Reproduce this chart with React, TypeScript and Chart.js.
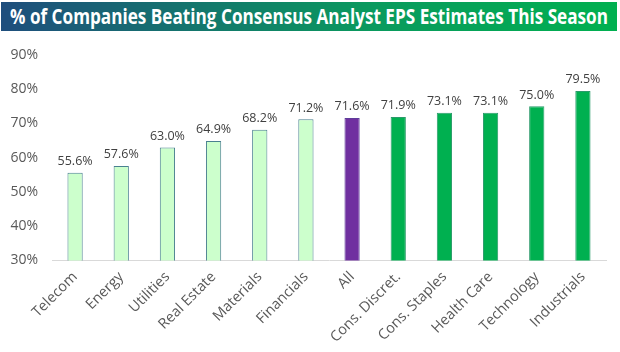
import React, { useEffect, useLayoutEffect, useRef } from 'react';
import { Chart, registerables } from 'chart.js';

Chart.register(...registerables);

const title = '% of Companies Beating Consensus Analyst EPS Estimates This Season';
const categories = ['Telecom', 'Energy', 'Utilities', 'Real Estate', 'Materials', 'Financials', 'All', 'Cons. Discret.', 'Cons. Staples', 'Health Care', 'Technology', 'Industrials'];
const values = [55.6, 57.6, 63.0, 64.9, 68.2, 71.2, 71.6, 71.9, 73.1, 73.1, 75.0, 79.5];
const groups = ['below', 'below', 'below', 'below', 'below', 'below', 'all', 'above', 'above', 'above', 'above', 'above'];
const yTicks = [30, 40, 50, 60, 70, 80, 90];

const fillFor: Record<string, string> = { below: '#ccffcc', all: '#7030a0', above: '#00b050' };
const borderFor: Record<string, string> = { below: '#4a8090', all: '#5e3d9a', above: '#2a9a6a' };

const labelPlugin = {
  id: 'barLabels',
  afterDatasetsDraw(chart: any) {
    const ctx = chart.ctx;
    const meta = chart.getDatasetMeta(0);
    ctx.save();
    ctx.font = '12.5px "Open Sans"';
    ctx.fillStyle = '#404040';
    ctx.textAlign = 'center';
    ctx.textBaseline = 'bottom';
    meta.data.forEach((el: any, i: number) => {
      ctx.fillText(values[i].toFixed(1) + '%', el.x, el.y - 5);
    });
    ctx.restore();
  },
};

export default function App() {
  const canvasRef = useRef<HTMLCanvasElement | null>(null);
  const spanRef = useRef<HTMLSpanElement | null>(null);

  useLayoutEffect(() => {
    document.body.style.margin = '0';
    const s = spanRef.current;
    if (s) {
      const w = s.getBoundingClientRect().width;
      const target = 598;
      s.style.transform = `scaleX(${target / w})`;
    }
  }, []);

  useEffect(() => {
    if (!canvasRef.current) return;
    const chart = new Chart(canvasRef.current, {
      type: 'bar',
      data: {
        labels: categories,
        datasets: [
          {
            data: values,
            backgroundColor: groups.map((g) => fillFor[g]),
            borderColor: groups.map((g) => borderFor[g]),
            borderWidth: 1,
            barPercentage: 0.33,
            categoryPercentage: 1,
          },
        ],
      },
      options: {
        animation: false,
        responsive: false,
        maintainAspectRatio: false,
        layout: { padding: { top: 55, left: 9, right: 14, bottom: 2 } },
        plugins: { legend: { display: false }, tooltip: { enabled: false } },
        scales: {
          x: {
            grid: { display: false, drawTicks: false },
            border: { display: true, color: '#d9d9d9', width: 1 },
            afterFit: (scale: any) => {
              scale.paddingLeft = 0;
              scale.paddingRight = 0;
              scale.height -= 4;
            },
            ticks: {
              color: '#595959',
              font: { family: 'Open Sans', size: 14.5 },
              minRotation: 45,
              maxRotation: 45,
              padding: 8,
              autoSkip: false,
            },
          },
          y: {
            min: yTicks[0],
            max: yTicks[yTicks.length - 1],
            grid: { display: false, drawTicks: false },
            border: { display: false },
            afterBuildTicks: (axis: any) => {
              axis.ticks = yTicks.map((v) => ({ value: v }));
            },
            afterFit: (scale: any) => {
              scale.width = 43;
            },
            ticks: {
              color: '#595959',
              font: { family: 'Open Sans', size: 14 },
              padding: 14,
              callback: (v: any) => v + '%',
            },
          },
        },
      },
      plugins: [labelPlugin],
    });
    return () => chart.destroy();
  }, []);

  return (
    <div style={{ position: 'relative', width: 620, height: 352, background: '#fff' }}>
      <div
        style={{
          position: 'absolute',
          left: 1,
          top: 2,
          width: 616,
          height: 29,
          background: 'linear-gradient(to right, #1f4e7d, #0a9a5e 60%, #00b050)',
          overflow: 'hidden',
        }}
      >
        <span
          ref={spanRef}
          style={{
            position: 'absolute',
            left: 9,
            top: 0,
            lineHeight: '29px',
            whiteSpace: 'nowrap',
            color: '#ffffff',
            fontFamily: '"Open Sans", sans-serif',
            fontWeight: 700,
            fontSize: 21,
            transformOrigin: 'left center',
            display: 'inline-block',
          }}
        >
          {title}
        </span>
      </div>
      <canvas ref={canvasRef} width={620} height={352} style={{ display: 'block' }} />
    </div>
  );
}
